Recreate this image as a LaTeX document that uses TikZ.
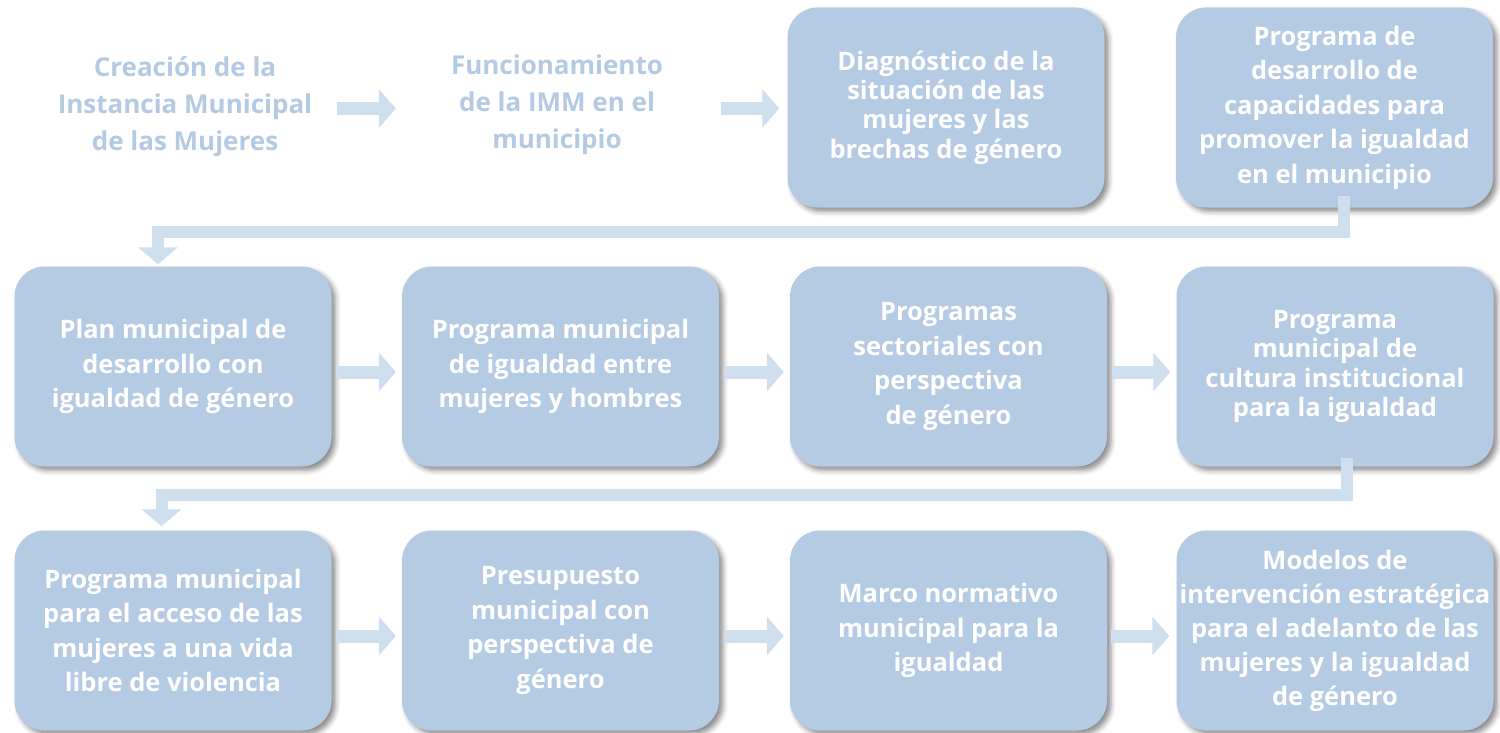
\documentclass[tikz,border=0pt]{standalone}
\usepackage{fontspec}
\setmainfont{Open Sans}
\usetikzlibrary{arrows.meta,shadows.blur}
\definecolor{boxfill}{HTML}{B4CBE3}
\definecolor{arrowfill}{HTML}{CFDFEE}
\definecolor{labeltext}{HTML}{B3CAE2}
\begin{document}
\begin{tikzpicture}[x=1pt,y=-1pt,
  stepbox/.style={draw=none, fill=boxfill, rounded corners=30pt,
    minimum width=317pt, minimum height=200pt, inner sep=0pt,
    text=white, align=center, font=\bfseries\fontsize{25.5}{34.5}\selectfont,
    blur shadow={shadow xshift=4pt, shadow yshift=-4pt, shadow blur radius=5pt, shadow opacity=45}},
  plainlabel/.style={text=labeltext, align=center, inner sep=0pt,
    font=\bfseries\fontsize{26}{37}\selectfont},
  flow/.style={draw=arrowfill, line width=13pt, -{Triangle[width=38pt,length=17pt]}},
  flowv/.style={draw=arrowfill, line width=12pt, line join=miter, -{Triangle[width=39pt,length=17pt]}}
]
\useasboundingbox (0,0) rectangle (1500,733);

% row 1
\node[plainlabel] (l1) at (185,107) {Creación de la\\Instancia Municipal\\de las Mujeres};
\node[plainlabel] (l2) at (557,105) {Funcionamiento\\de la IMM en el\\municipio};
\node[stepbox, font=\bfseries\fontsize{25.5}{29.3}\selectfont] (b13) at (946,107.5) {Diagnóstico de la\\situación de las\\mujeres y las\\brechas de género};
\node[stepbox] (b14) at (1334.5,107.5) {Programa de\\desarrollo de\\capacidades para\\promover la igualdad\\en el municipio};

% row 2
\node[stepbox] (b21) at (173,366.5) {Plan municipal de\\desarrollo con\\igualdad de género};
\node[stepbox] (b22) at (560.5,366.5) {Programa municipal\\de igualdad entre\\mujeres y hombres};
\node[stepbox] (b23) at (948.5,366.5) {Programas\\sectoriales con\\perspectiva\\de género};
\node[stepbox, font=\bfseries\fontsize{25.5}{29.5}\selectfont] (b24) at (1335,366.5) {Programa\\municipal de\\cultura institucional\\para la igualdad};

% row 3
\node[stepbox] (b31) at (173,630.5) {Programa municipal\\para el acceso de las\\mujeres a una vida\\libre de violencia};
\node[stepbox] (b32) at (560.5,630.5) {Presupuesto\\municipal con\\perspectiva de\\género};
\node[stepbox] (b33) at (948.5,630.5) {Marco normativo\\municipal para la\\igualdad};
\node[stepbox, font=\bfseries\fontsize{25.5}{34}\selectfont] (b34) at (1335,630.5) {Modelos de\\intervención estratégica\\para el adelanto de las\\mujeres y la igualdad\\de género};

% row 1 arrows
\draw[flow] ([xshift=25pt,yshift=-1.5pt]l1.east) -- ([xshift=-55pt,yshift=-3.5pt]l2.west);
\draw[flow] ([xshift=58pt,yshift=-3.5pt]l2.east) -- ([xshift=-8pt,yshift=-1pt]b13.west);

% row 2 arrows
\draw[flow] ([xshift=5pt,yshift=-5.5pt]b21.east) -- ([xshift=-6pt,yshift=-5.5pt]b22.west);
\draw[flow] ([xshift=6pt,yshift=-5.5pt]b22.east) -- ([xshift=-6pt,yshift=-5.5pt]b23.west);
\draw[flow] ([xshift=5pt,yshift=-5.5pt]b23.east) -- ([xshift=-6pt,yshift=-5.5pt]b24.west);

% row 3 arrows
\draw[flow] ([xshift=5pt,yshift=-5.5pt]b31.east) -- ([xshift=-6pt,yshift=-5.5pt]b32.west);
\draw[flow] ([xshift=6pt,yshift=-5.5pt]b32.east) -- ([xshift=-6pt,yshift=-5.5pt]b33.west);
\draw[flow] ([xshift=4pt,yshift=-5.5pt]b33.east) -- ([xshift=-7pt,yshift=-5.5pt]b34.west);

% elbow connectors
\draw[flowv] ([xshift=9.5pt,yshift=12pt]b14.south) |- ([xshift=-15pt,yshift=34pt]b21.north) -- ([xshift=-15pt,yshift=2pt]b21.north);
\draw[flowv] ([xshift=12pt,yshift=9pt]b24.south) |- ([xshift=-11.5pt,yshift=35pt]b31.north) -- ([xshift=-11.5pt,yshift=4pt]b31.north);
\end{tikzpicture}
\end{document}
